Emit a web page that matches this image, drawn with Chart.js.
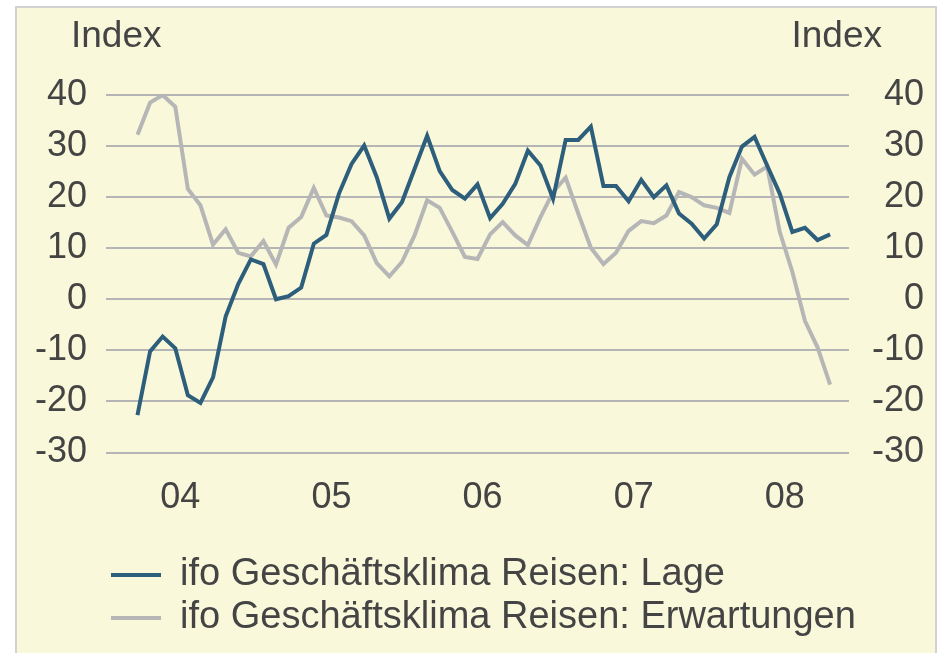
<!DOCTYPE html>
<html>
<head>
<meta charset="utf-8">
<script src="https://cdn.jsdelivr.net/npm/chart.js@4"></script>
<style>
  html, body { margin: 0; padding: 0; background: #fff; overflow: hidden; }
  #frame { position: absolute; left: 15px; top: 6px; width: 918px; height: 700px;
           border: 2px solid #d2d2d2; background: #faf8da; }
  #wrap { position: relative; width: 918px; height: 645px; }
</style>
</head>
<body>
<div id="frame"><div id="wrap"><canvas id="chart"></canvas></div></div>
<script>
// monthly values, Oct 2003 .. May 2008
const lage = [-22.7, -10.2, -7.3, -9.6, -18.8, -20.3, -15.3, -3.4, 3.0, 7.8, 6.9, 0.0, 0.6, 2.3, 10.9, 12.6,
              20.7, 26.5, 30.1, 23.9, 15.8, 19.0, 25.5, 32.0, 25.1, 21.4, 19.7, 22.5, 15.9, 18.7, 22.6, 29.1, 26.2, 19.7, 31.2, 31.2,
              33.8, 22.2, 22.2, 19.2, 23.4, 20.0, 22.3, 16.8, 14.8, 11.9, 14.7, 23.9, 29.9, 31.8, 26.2, 20.7, 13.2, 14.0, 11.6, 12.7];
const erwartungen = [32.2, 38.5, 40.0, 37.7, 21.6, 18.4, 10.7, 13.7, 9.1, 8.4, 11.4, 6.8, 14.0, 16.1, 21.8, 16.4,
                     16.0, 15.3, 12.5, 7.1, 4.5, 7.3, 12.5, 19.4, 17.9, 13.2, 8.3, 7.9, 12.7, 15.1, 12.5, 10.6, 16.1, 21.0, 23.8, 16.8,
                     10.1, 6.9, 9.1, 13.4, 15.3, 14.9, 16.4, 21.0, 20.0, 18.4, 17.9, 16.9, 27.5, 24.4, 26.0, 13.2, 5.4, -4.2, -9.4, -16.7];

const seriesNames = ['ifo Geschäftsklima Reisen: Lage', 'ifo Geschäftsklima Reisen: Erwartungen'];
const yearLabels = ['04', '05', '06', '07', '08'];
const yearTickPos = [3.4, 15.4, 27.4, 39.4, 51.4];   // month index of each year label
const axisTitle = 'Index';

const textColor = '#444444';
const fontFamily = '"Liberation Sans", Arial, sans-serif';

// draws the "Index" caption above both y axes
const indexLabels = {
  id: 'indexLabels',
  afterDraw(chart) {
    const ctx = chart.ctx;
    ctx.save();
    ctx.font = '37px ' + fontFamily;
    ctx.fillStyle = textColor;
    ctx.textBaseline = 'alphabetic';
    ctx.textAlign = 'left';
    ctx.fillText(axisTitle, 54, 39);
    ctx.textAlign = 'right';
    ctx.fillText(axisTitle, 865, 39);
    ctx.restore();
  }
};

// legend sits under the plot area but its long label runs past the plot's right edge,
// so widen the legend box (and its clip) to the canvas edge
const widenLegend = {
  id: 'widenLegend',
  afterLayout(chart) {
    const lg = chart.legend;
    if (!lg) return;
    lg.right = chart.width;
    lg.width = lg.right - lg.left;
  }
};

const tickFont = { family: fontFamily, size: 36 };

new Chart(document.getElementById('chart'), {
  type: 'line',
  data: {
    datasets: [{
      label: seriesNames[0],
      data: lage.map((v, i) => ({ x: i, y: v })),
      borderColor: '#2d5e7b',
      backgroundColor: '#2d5e7b',
      borderWidth: 4,
      pointRadius: 0,
      tension: 0,
      yAxisID: 'y'
    }, {
      label: seriesNames[1],
      data: erwartungen.map((v, i) => ({ x: i, y: v })),
      borderColor: '#b6b6b6',
      backgroundColor: '#b6b6b6',
      borderWidth: 4,
      pointRadius: 0,
      tension: 0,
      yAxisID: 'y'
    }]
  },
  options: {
    responsive: true,
    maintainAspectRatio: false,
    animation: false,
    layout: { padding: { top: 87, bottom: 6, left: 0, right: 11 } },
    plugins: {
      legend: {
        position: 'bottom',
        align: 'start',
        fullSize: false,
        labels: {
          usePointStyle: true,
          pointStyle: 'line',
          pointStyleWidth: 50,
          padding: 5,
          color: textColor,
          font: { family: fontFamily, size: 38 }
        }
      },
      tooltip: { enabled: false }
    },
    scales: {
      x: {
        type: 'linear',
        min: -2.5,
        max: 56.5,
        afterBuildTicks: s => { s.ticks = yearTickPos.map(v => ({ value: v })); },
        afterFit: s => { s.height = 98.5; },
        ticks: {
          callback: (v, i) => yearLabels[i],
          autoSkip: false,
          maxRotation: 0,
          padding: 16,
          color: textColor,
          font: tickFont
        },
        grid: { display: false },
        border: { display: false }
      },
      y: {
        position: 'left',
        min: -30,
        max: 40,
        afterFit: s => { s.width = 89; },
        ticks: { stepSize: 10, padding: 19, color: textColor, font: tickFont },
        grid: { color: '#b5b5b5', lineWidth: 2, drawTicks: false },
        border: { display: false }
      },
      y2: {
        position: 'right',
        min: -30,
        max: 40,
        afterFit: s => { s.width = 75; },
        ticks: { stepSize: 10, padding: 23, crossAlign: 'far', color: textColor, font: tickFont },
        grid: { display: false, drawTicks: false },
        border: { display: false }
      }
    }
  },
  plugins: [indexLabels, widenLegend]
});
</script>
</body>
</html>
